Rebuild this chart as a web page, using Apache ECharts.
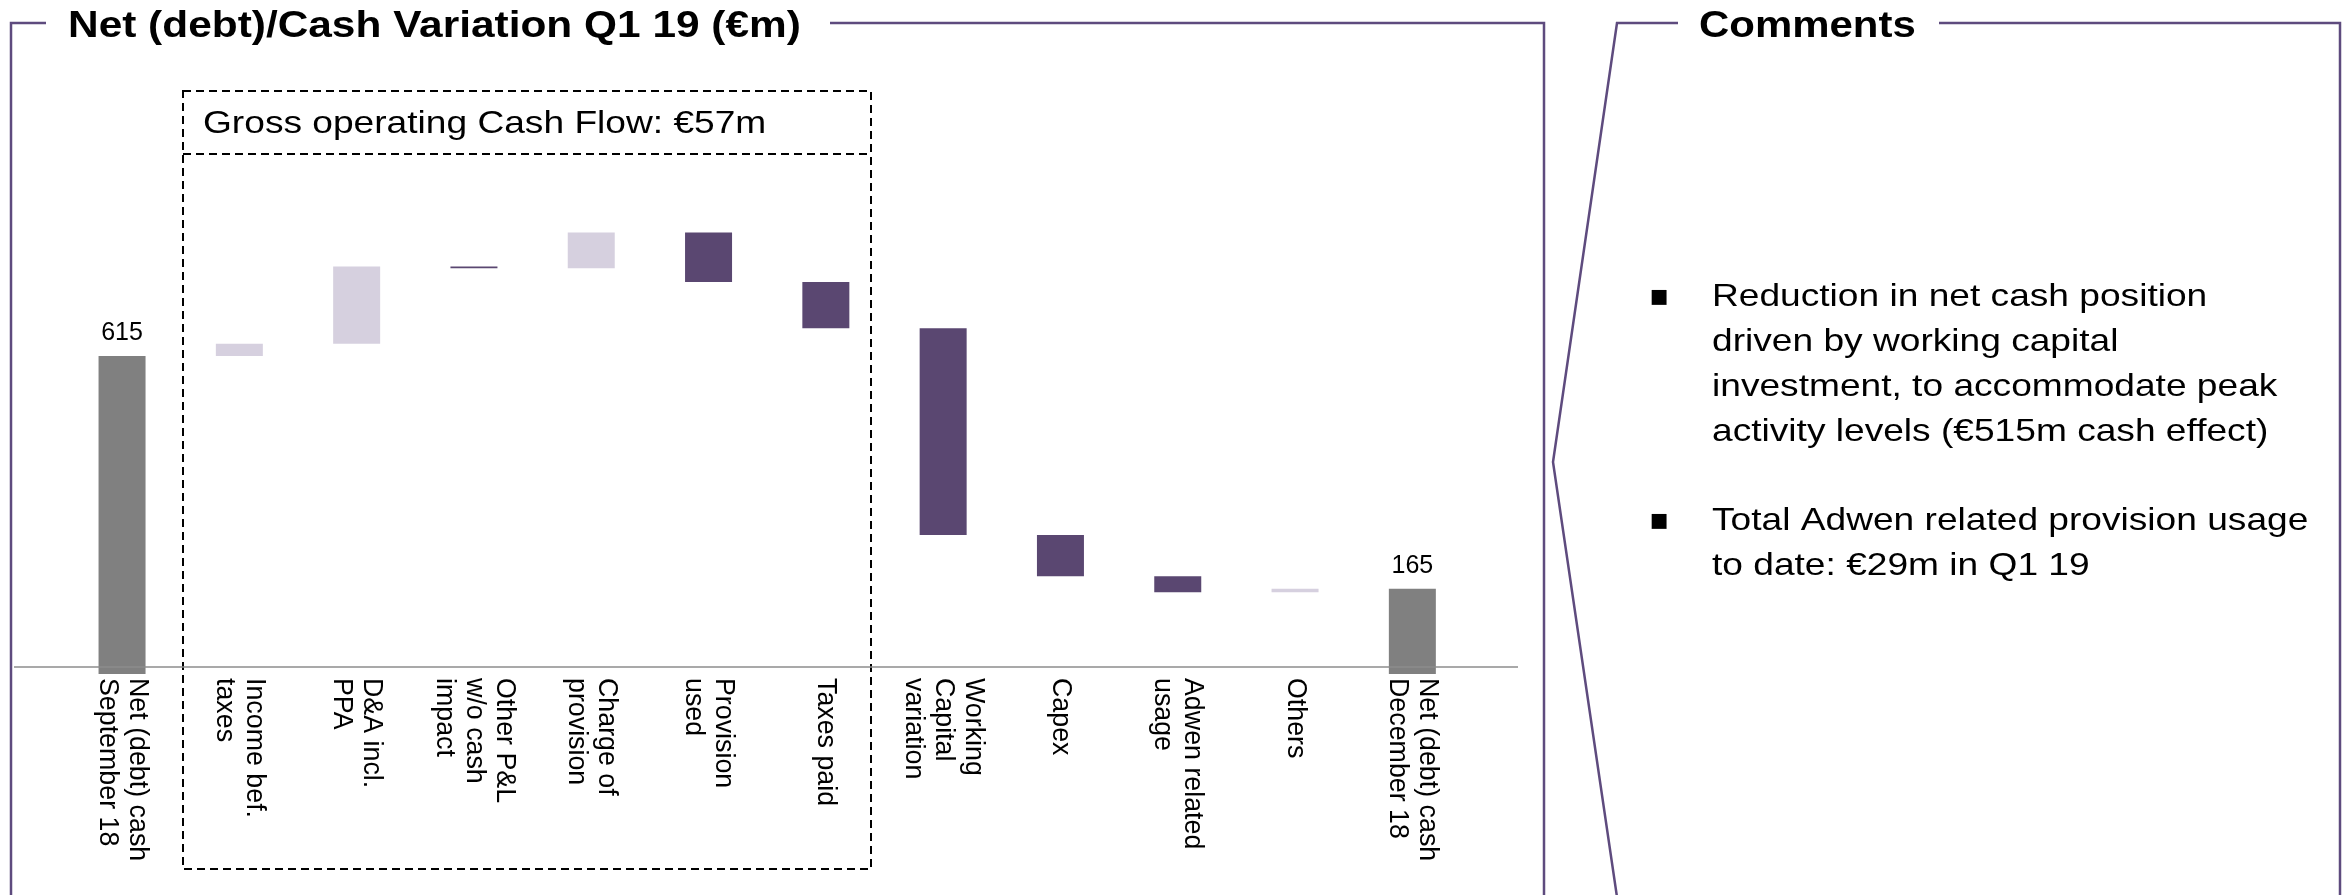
<!DOCTYPE html>
<html>
<head>
<meta charset="utf-8">
<script src="https://cdn.jsdelivr.net/npm/echarts@6/dist/echarts.min.js"></script>
<style>
  html, body { margin: 0; padding: 0; background: #ffffff; }
  #chart { width: 2344px; height: 895px; }
</style>
</head>
<body>
<div id="chart"></div>
<script>
// ---- data ----
const categories = [
  'Net (debt) cash\nSeptember 18',
  'Income bef.\ntaxes',
  'D&A incl.\nPPA',
  'Other P&L\nw/o cash\nimpact',
  'Charge of\nprovision',
  'Provision\nused',
  'Taxes paid',
  'Working\nCapital\nvariation',
  'Capex',
  'Adwen related\nusage',
  'Others',
  'Net (debt) cash\nDecember 18'
];
const startValue = 615;
const deltas = [24, 149, -3, 69, -96, -89, -400, -80, -31, 7];
const endValue = 165;
const boxTitle = 'Gross operating Cash Flow: €57m';
const chartTitle = 'Net (debt)/Cash Variation Q1 19 (€m)';
const commentsTitle = 'Comments';
const comments = [
  ['Reduction in net cash position', 'driven by working capital', 'investment, to accommodate peak', 'activity levels (€515m cash effect)'],
  ['Total Adwen related provision usage', 'to date: €29m in Q1 19']
];

// ---- build waterfall series ----
const base = [], up = [], down = [], totals = [];
let level = startValue;
totals.push(startValue); base.push(0); up.push('-'); down.push('-');
deltas.forEach(d => {
  const next = level + d;
  base.push(Math.min(level, next));
  if (d >= 0) { up.push(d); down.push('-'); } else { down.push(-d); up.push('-'); }
  totals.push('-');
  level = next;
});
totals.push(endValue); base.push(0); up.push('-'); down.push('-');

const FONT = "'Liberation Sans', Arial, Helvetica, sans-serif";
const PURPLE = '#5a4771';
const LIGHT = '#d6d0df';
const GRAY = '#808080';
const FRAME = '#5e4b7e';

const chart = echarts.init(document.getElementById('chart'));

const graphics = [];
// frames
graphics.push({ type: 'polyline', shape: { points: [[46, 23], [11, 23], [11, 900]] }, style: { stroke: FRAME, lineWidth: 2.5, fill: null } });
graphics.push({ type: 'polyline', shape: { points: [[830, 23], [1544, 23], [1544, 900]] }, style: { stroke: FRAME, lineWidth: 2.5, fill: null } });
graphics.push({ type: 'polyline', shape: { points: [[1678, 23], [1617, 23], [1553, 462], [1617, 897]] }, style: { stroke: FRAME, lineWidth: 2.5, fill: null } });
graphics.push({ type: 'polyline', shape: { points: [[1939, 23], [2340, 23], [2340, 900]] }, style: { stroke: FRAME, lineWidth: 2.5, fill: null } });
// dashed box
graphics.push({ type: 'rect', shape: { x: 183, y: 91, width: 688, height: 778 }, style: { stroke: '#000', lineWidth: 2, lineDash: [8, 5], fill: null } });
graphics.push({ type: 'line', shape: { x1: 183, y1: 154, x2: 871, y2: 154 }, style: { stroke: '#000', lineWidth: 2, lineDash: [8, 5] } });
// baseline
graphics.push({ type: 'line', z: 10, shape: { x1: 14, y1: 667, x2: 1518, y2: 667 }, style: { stroke: '#8c8c8c', lineWidth: 1.5 } });
// titles
graphics.push({ type: 'text', x: 68, y: 27.5, scaleX: 1.178, style: { text: chartTitle, font: "bold 36px " + FONT, fill: '#000', verticalAlign: 'middle' } });
graphics.push({ type: 'text', x: 1699, y: 27.5, scaleX: 1.165, style: { text: commentsTitle, font: "bold 36px " + FONT, fill: '#000', verticalAlign: 'middle' } });
graphics.push({ type: 'text', x: 203, y: 124, scaleX: 1.16, style: { text: boxTitle, font: "32px " + FONT, fill: '#000', verticalAlign: 'middle' } });
// comments
const lineStarts = [297.5, 521.5];
const pitch = 44.8;
comments.forEach((lines, i) => {
  graphics.push({ type: 'text', x: 1659, y: lineStarts[i], style: { text: '▪', font: "30px 'DejaVu Sans', sans-serif", fill: '#000', align: 'center', verticalAlign: 'middle' } });
  lines.forEach((t, j) => {
    graphics.push({ type: 'text', x: 1712, y: lineStarts[i] + j * pitch, scaleX: 1.16, style: { text: t, font: "32px " + FONT, fill: '#000', verticalAlign: 'middle' } });
  });
});

const option = {
  backgroundColor: '#ffffff',
  animation: false,
  grid: { left: 63.4, right: 873, top: 208.7, bottom: 221, outerBoundsMode: 'none', containLabel: false },
  xAxis: {
    type: 'category',
    data: categories,
    axisLine: { show: false },
    axisTick: { show: false },
    axisLabel: {
      rotate: -90,
      interval: 0,
      margin: 4,
      fontSize: 26.8,
      lineHeight: 30,
      color: '#000',
      fontFamily: FONT
    }
  },
  yAxis: { type: 'value', min: 0, max: 900, show: false, splitLine: { show: false } },
  series: [
    { type: 'bar', stack: 'w', data: base, barWidth: 47, itemStyle: { color: 'transparent' }, silent: true },
    { type: 'bar', stack: 'w', data: up, barWidth: 47, itemStyle: { color: LIGHT } },
    { type: 'bar', stack: 'w', data: down, barWidth: 47, itemStyle: { color: PURPLE } },
    { type: 'bar', stack: 'w', data: totals, barWidth: 47, itemStyle: { color: GRAY },
      label: { show: true, position: 'top', distance: 10, fontSize: 25, color: '#000', fontFamily: FONT } }
  ],
  graphic: graphics
};
chart.setOption(option);
</script>
</body>
</html>
